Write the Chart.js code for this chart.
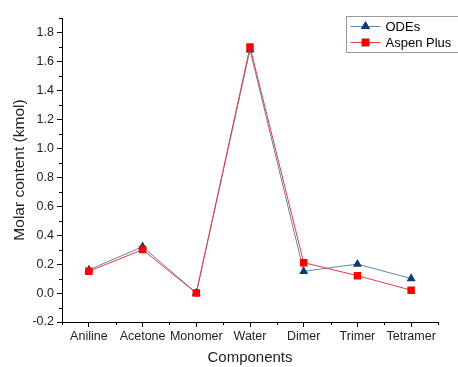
<!DOCTYPE html>
<html>
<head>
<meta charset="utf-8">
<script src="https://cdn.jsdelivr.net/npm/chart.js@4.4.0/dist/chart.umd.min.js"></script>
<style>
  html, body { margin: 0; padding: 0; background: #fff; }
  #wrap { width: 458px; height: 367px; position: relative; }
</style>
</head>
<body>
<div id="wrap"><canvas id="chart"></canvas></div>
<script>
const components = ['Aniline', 'Acetone', 'Monomer', 'Water', 'Dimer', 'Trimer', 'Tetramer'];
const odesValues  = [0.16, 0.32, 0.00, 1.68, 0.15, 0.20, 0.10];
const aspenValues = [0.15, 0.30, 0.00, 1.70, 0.21, 0.12, 0.02];
const yTicks = [-0.2, 0.0, 0.2, 0.4, 0.6, 0.8, 1.0, 1.2, 1.4, 1.6, 1.8];

const FONT = '"Liberation Sans", Arial, sans-serif';

/* minor ticks + legend box, drawn from the scales */
const extras = {
  id: 'extras',
  afterDraw(chart) {
    const ctx = chart.ctx;
    const x = chart.scales.x, y = chart.scales.y;
    ctx.save();
    ctx.strokeStyle = '#000';
    ctx.lineWidth = 1;
    // y minor ticks
    for (let i = -2; i <= 19; i++) {
      if (i % 2 === 0) continue;
      const py = Math.round(y.getPixelForValue(i / 10)) + 0.5;
      ctx.beginPath(); ctx.moveTo(x.left - 3, py); ctx.lineTo(x.left, py); ctx.stroke();
    }
    // x minor ticks at category boundaries
    for (let i = 0; i <= components.length; i++) {
      const px = Math.round(x.getPixelForValue(i - 0.5)) + 0.5;
      ctx.beginPath(); ctx.moveTo(px, y.bottom); ctx.lineTo(px, y.bottom + 3); ctx.stroke();
    }

    // legend
    const bx = 346.5, by = 16.5, bw = 112, bh = 36;
    ctx.strokeStyle = '#999';
    ctx.strokeRect(bx, by, bw, bh);
    const items = [chart.data.datasets[1], chart.data.datasets[0]];
    items.forEach((ds, i) => {
      const ly = by + 10 + i * 16;
      ctx.strokeStyle = ds.borderColor;
      ctx.lineWidth = 1;
      ctx.beginPath(); ctx.moveTo(bx + 4, ly); ctx.lineTo(bx + 34, ly); ctx.stroke();
      Chart.helpers.drawPoint(ctx, {
        pointStyle: ds.pointStyle, radius: ds.pointRadius, rotation: 0, borderWidth: 0
      }, bx + 19, ly);
      ctx.fillStyle = ds.pointBackgroundColor;
      ctx.fill();
      ctx.fillStyle = '#000';
      ctx.font = '13px ' + FONT;
      ctx.textBaseline = 'middle';
      ctx.textAlign = 'left';
      ctx.fillText(ds.label, bx + 39, ly + 1);
    });
    ctx.restore();
  }
};

new Chart(document.getElementById('chart'), {
  type: 'line',
  data: {
    labels: components,
    datasets: [
      {
        label: 'Aspen Plus', data: aspenValues, order: 0,
        borderColor: '#ee3a3a', borderWidth: 1,
        pointStyle: 'rect', pointRadius: 5.3, pointHoverRadius: 5.3,
        pointBackgroundColor: '#ff0000', pointBorderColor: '#ff0000', pointBorderWidth: 0,
        tension: 0
      },
      {
        label: 'ODEs', data: odesValues, order: 1,
        borderColor: '#5c88ab', borderWidth: 1,
        pointStyle: 'triangle', pointRadius: 5.2, pointHoverRadius: 5.2,
        pointBackgroundColor: '#0d3b6f', pointBorderColor: '#0d3b6f', pointBorderWidth: 0,
        tension: 0
      }
    ]
  },
  options: {
    responsive: true,
    maintainAspectRatio: false,
    animation: false,
    layout: { padding: { top: 18, right: 20, left: 0, bottom: 0 } },
    plugins: { legend: { display: false }, tooltip: { enabled: false } },
    scales: {
      x: {
        offset: true,
        border: { color: '#000', width: 1 },
        grid: { drawOnChartArea: false, tickLength: 5, color: '#000', offset: false },
        ticks: { color: '#222', font: { family: FONT, size: 12.5 }, padding: 2, maxRotation: 0, autoSkip: false },
        title: { display: true, text: 'Components', color: '#222', font: { family: FONT, size: 15 }, padding: { top: 6, bottom: 0 } },
        afterFit(s) { s.height = 45; }
      },
      y: {
        min: -0.2, max: 1.9,
        afterBuildTicks(s) { s.ticks = yTicks.map(v => ({ value: v })); },
        border: { color: '#000', width: 1 },
        grid: { drawOnChartArea: false, tickLength: 5, color: '#000' },
        ticks: { color: '#222', font: { family: FONT, size: 12.5 }, padding: 3, callback: v => v.toFixed(1) },
        title: { display: true, text: 'Molar content (kmol)', color: '#222', font: { family: FONT, size: 15.5 }, padding: { top: 10, bottom: 2 } },
        afterFit(s) { s.width = 62; }
      }
    }
  },
  plugins: [extras]
});
</script>
</body>
</html>
